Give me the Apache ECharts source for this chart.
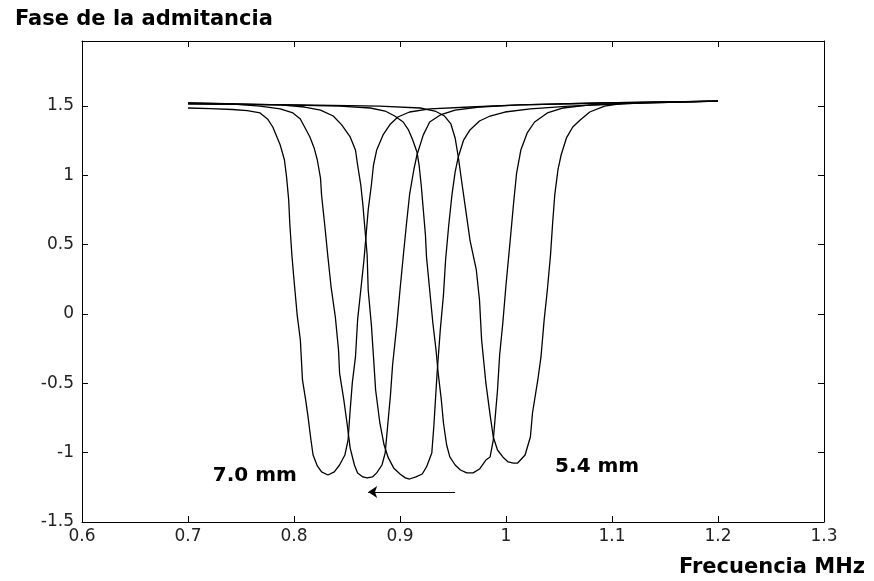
<!DOCTYPE html>
<html>
<head>
<meta charset="utf-8">
<script src="https://cdn.jsdelivr.net/npm/echarts@6/dist/echarts.min.js"></script>
<style>
  html, body { margin: 0; padding: 0; background: #fff; }
  #chart { width: 874px; height: 581px; }
</style>
</head>
<body>
<div id="chart"></div>
<script>
// Axis ticks and their labels
const xTickValues = [0.6, 0.7, 0.8, 0.9, 1.0, 1.1, 1.2, 1.3];
const xTickLabels = ['0.6', '0.7', '0.8', '0.9', '1', '1.1', '1.2', '1.3'];
const yTickValues = [-1.5, -1, -0.5, 0, 0.5, 1, 1.5];
const yTickLabels = ['-1.5', '-1', '-0.5', '0', '0.5', '1', '1.5'];

// Admittance phase (rad) vs frequency (MHz), one array per sample thickness
const phase70 = [
  [0.700,1.485],[0.721,1.480],[0.742,1.474],[0.756,1.466],[0.768,1.449],[0.775,1.406],
  [0.780,1.348],[0.787,1.218],[0.791,1.110],[0.793,0.987],[0.795,0.822],[0.796,0.656],
  [0.798,0.425],[0.800,0.245],[0.803,-0.008],[0.806,-0.188],[0.808,-0.476],[0.811,-0.620],
  [0.813,-0.728],[0.816,-0.909],[0.818,-1.017],[0.822,-1.096],[0.826,-1.139],[0.832,-1.161],
  [0.838,-1.139],[0.843,-1.089],[0.848,-1.017],[0.851,-0.909],[0.853,-0.692],[0.855,-0.497],
  [0.858,-0.310],[0.860,-0.043],[0.863,0.173],[0.866,0.389],[0.868,0.569],[0.870,0.750],
  [0.873,0.930],[0.875,1.074],[0.878,1.182],[0.884,1.291],[0.891,1.370],[0.898,1.420],
  [0.909,1.456],[0.928,1.478],[0.966,1.492],[1.013,1.507],[1.089,1.521],[1.200,1.535]
];
const phase66 = [
  [0.700,1.521],[0.740,1.514],[0.768,1.499],[0.787,1.478],[0.799,1.449],[0.806,1.406],
  [0.810,1.348],[0.815,1.276],[0.819,1.197],[0.822,1.110],[0.825,0.980],[0.826,0.858],
  [0.829,0.641],[0.832,0.411],[0.835,0.194],[0.839,-0.022],[0.842,-0.260],[0.843,-0.426],
  [0.847,-0.620],[0.850,-0.786],[0.853,-0.967],[0.857,-1.089],[0.860,-1.146],[0.865,-1.175],
  [0.869,-1.182],[0.874,-1.175],[0.878,-1.146],[0.883,-1.089],[0.886,-1.003],[0.888,-0.837],
  [0.891,-0.584],[0.893,-0.368],[0.897,-0.079],[0.900,0.173],[0.903,0.411],[0.906,0.641],
  [0.909,0.858],[0.913,1.038],[0.916,1.146],[0.922,1.291],[0.928,1.384],[0.938,1.435],
  [0.952,1.470],[0.975,1.492],[1.013,1.507],[1.089,1.521],[1.200,1.535]
];
const phase62 = [
  [0.700,1.521],[0.749,1.514],[0.787,1.507],[0.810,1.492],[0.825,1.470],[0.837,1.427],
  [0.845,1.363],[0.853,1.276],[0.858,1.182],[0.860,1.074],[0.863,0.930],[0.865,0.786],
  [0.867,0.605],[0.869,0.425],[0.870,0.173],[0.873,-0.079],[0.875,-0.310],[0.877,-0.548],
  [0.881,-0.786],[0.885,-0.945],[0.889,-1.038],[0.894,-1.110],[0.900,-1.154],[0.905,-1.182],
  [0.909,-1.190],[0.915,-1.175],[0.921,-1.154],[0.925,-1.103],[0.930,-1.003],[0.932,-0.801],
  [0.935,-0.426],[0.938,-0.115],[0.941,0.137],[0.943,0.389],[0.946,0.641],[0.949,0.858],
  [0.952,1.023],[0.955,1.132],[0.960,1.254],[0.966,1.327],[0.975,1.391],[0.985,1.427],
  [0.999,1.456],[1.023,1.478],[1.060,1.499],[1.126,1.521],[1.200,1.535]
];
const phase58 = [
  [0.700,1.514],[0.787,1.507],[0.843,1.499],[0.872,1.485],[0.886,1.463],[0.895,1.427],
  [0.903,1.384],[0.908,1.327],[0.912,1.254],[0.916,1.168],[0.918,1.074],[0.920,0.930],
  [0.922,0.750],[0.924,0.569],[0.925,0.411],[0.928,0.173],[0.931,-0.065],[0.934,-0.260],
  [0.936,-0.426],[0.939,-0.620],[0.941,-0.786],[0.944,-0.945],[0.947,-1.031],[0.952,-1.089],
  [0.957,-1.125],[0.963,-1.146],[0.969,-1.146],[0.975,-1.118],[0.981,-1.053],[0.985,-1.031],
  [0.988,-0.909],[0.990,-0.728],[0.992,-0.548],[0.994,-0.296],[0.997,-0.065],[1.000,0.209],
  [1.004,0.533],[1.007,0.786],[1.010,1.016],[1.014,1.182],[1.020,1.305],[1.027,1.384],
  [1.039,1.449],[1.054,1.485],[1.079,1.507],[1.126,1.521],[1.200,1.535]
];
const phase54 = [
  [0.700,1.514],[0.806,1.507],[0.881,1.499],[0.919,1.485],[0.933,1.463],[0.942,1.427],
  [0.948,1.370],[0.952,1.269],[0.955,1.132],[0.958,0.966],[0.962,0.750],[0.966,0.533],
  [0.972,0.317],[0.975,0.101],[0.977,-0.188],[0.981,-0.497],[0.985,-0.728],[0.988,-0.887],
  [0.992,-0.981],[0.997,-1.031],[1.002,-1.067],[1.007,-1.075],[1.011,-1.075],[1.018,-1.017],
  [1.023,-0.887],[1.025,-0.714],[1.030,-0.476],[1.033,-0.310],[1.036,-0.043],[1.039,0.173],
  [1.042,0.425],[1.044,0.656],[1.046,0.858],[1.049,1.038],[1.052,1.146],[1.057,1.269],
  [1.063,1.348],[1.070,1.399],[1.079,1.456],[1.093,1.499],[1.112,1.521],[1.145,1.528],
  [1.200,1.535]
];

// Thickness labels and the shift arrow (frequency, phase)
const thicknessNotes = [[0.763, -1.168, '7.0 mm'], [1.086, -1.103, '5.4 mm']];
const shiftArrow = [[0.952, -1.284], [0.870, -1.284]];

const curves = [phase70, phase66, phase62, phase58, phase54];

function pickLabel(values, labels) {
  return function (v) {
    const i = values.findIndex(t => Math.abs(t - v) < 1e-6);
    return i >= 0 ? labels[i] : '';
  };
}

const tickFont = { fontFamily: 'DejaVu Sans', fontSize: 17, color: '#222' };
const boxLine = { show: true, onZero: false, lineStyle: { color: '#000', width: 1 } };
const tickStyle = (vals) => ({ show: true, inside: true, length: 6, customValues: vals,
  lineStyle: { color: '#000' } });

const chart = echarts.init(document.getElementById('chart'), null, { renderer: 'canvas' });
chart.setOption({
  animation: false,
  backgroundColor: '#fff',
  title: [
    { text: 'Fase de la admitancia', left: 10, top: 4,
      textStyle: { fontFamily: 'DejaVu Sans', fontWeight: 'bold', fontSize: 21, color: '#000' } },
    { text: 'Frecuencia MHz', right: 4, top: 552,
      textStyle: { fontFamily: 'DejaVu Sans', fontWeight: 'bold', fontSize: 21, color: '#000' } }
  ],
  grid: { left: 82, right: 50, top: 41, bottom: 59, containLabel: false },
  xAxis: [
    { type: 'value', min: 0.6, max: 1.3, position: 'bottom',
      axisLine: boxLine, splitLine: { show: false }, axisTick: tickStyle(xTickValues),
      axisLabel: Object.assign({ margin: 6, customValues: xTickValues,
        formatter: pickLabel(xTickValues, xTickLabels) }, tickFont) },
    { type: 'value', min: 0.6, max: 1.3, position: 'top',
      axisLine: boxLine, splitLine: { show: false }, axisTick: tickStyle(xTickValues),
      axisLabel: { show: false } }
  ],
  yAxis: [
    { type: 'value', min: -1.5, max: 1.968, position: 'left',
      axisLine: boxLine, splitLine: { show: false }, axisTick: tickStyle(yTickValues),
      axisLabel: Object.assign({ margin: 8, customValues: yTickValues,
        formatter: pickLabel(yTickValues, yTickLabels) }, tickFont) },
    { type: 'value', min: -1.5, max: 1.968, position: 'right',
      axisLine: boxLine, splitLine: { show: false }, axisTick: tickStyle(yTickValues),
      axisLabel: { show: false } }
  ],
  series: curves.map((d, i) => ({
    type: 'line', name: 'c' + i, data: d, showSymbol: false, silent: true,
    lineStyle: { color: '#000', width: 1.3 }, z: 3
  })).concat([
    { type: 'scatter', data: thicknessNotes, symbolSize: 0, silent: true,
      itemStyle: { opacity: 1, color: '#000' },
      label: { show: true, position: 'inside', formatter: p => p.data[2],
        fontFamily: 'DejaVu Sans', fontWeight: 'bold', fontSize: 20, color: '#000' } },
    { type: 'lines', coordinateSystem: 'cartesian2d', silent: true,
      data: [{ coords: shiftArrow }],
      symbol: ['none', 'arrow'], symbolSize: [0, 9],
      lineStyle: { color: '#000', width: 1, opacity: 1 } }
  ])
});
</script>
</body>
</html>
